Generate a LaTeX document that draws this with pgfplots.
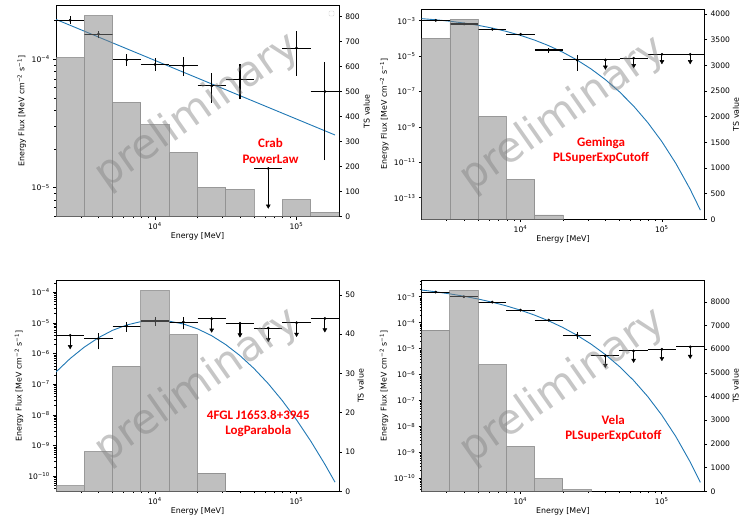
\documentclass[border=0pt]{standalone}
\usepackage{pgfplots}
\pgfplotsset{compat=1.18}
\usepackage{fontspec}
\setmainfont{DejaVu Sans}
\newfontfamily\redfont{Carlito}
\definecolor{mplblue}{RGB}{31,119,180}
\newcommand{\tp}[1]{10\textsuperscript{#1}}
\pgfplotsset{
 mybase/.style={scale only axis, anchor=north west, xmin=2000, xmax=200000,
   tick align=outside, major tick length=2.8pt, minor tick length=1.6pt,
   every tick/.append style={black, line width=0.55pt}, axis line style={line width=0.65pt},
   ticklabel style={font=\fontsize{7.6}{9}\selectfont}, label style={font=\fontsize{7.9}{9}\selectfont},
   /pgf/number format/assume math mode=true, /pgf/number format/1000 sep={}, scaled ticks=false},
 myflux/.style={mybase, tick pos=left, xtick={1e4,1e5}, xticklabels={\tp{4},\tp{5}},
   minor xtick={3000,4000,5000,6000,7000,8000,9000,20000,30000,40000,50000,60000,70000,80000,90000},
   xlabel={Energy [MeV]}, ylabel={Energy Flux [MeV cm\textsuperscript{−2} s\textsuperscript{−1}]},
   xlabel style={at={(axis description cs:0.5,0)}, anchor=center, yshift=-20pt},
   ylabel style={at={(axis description cs:#1,0.5)}, anchor=center},
   unbounded coords=jump},
 myts/.style={mybase, axis x line=none, axis y line*=right, ymin=0, ylabel={TS value},
   ylabel style={at={(axis description cs:#1,0.5)}, anchor=center}},
 mybars/.style={ybar interval, fill=gray, fill opacity=0.5, draw=gray, draw opacity=0.7, line width=0.9pt},
 myerrs/.style={black, line width=1.1pt},
 mypts/.style={only marks, mark=*, mark size=1.2pt, black},
 myheads/.style={only marks, mark=triangle*, mark size=2.3pt, black, mark options={rotate=180}},
 mymodel/.style={mplblue, line width=0.9pt},
}
\begin{document}
\begin{tikzpicture}
\useasboundingbox (0,0) rectangle (753pt,-518pt);
% ---------------- Panel 1: Crab
\begin{axis}[xmode=log, ymode=log, myflux=-0.1212, at={(56pt,-5.7pt)}, width=283pt, height=211pt, ymin=5.94e-6, ymax=2.61e-4,
  ytick={1e-5,1e-4}, yticklabels={\tp{−5},\tp{−4}},
  minor ytick={6e-6,7e-6,8e-6,9e-6,2e-5,3e-5,4e-5,5e-5,6e-5,7e-5,8e-5,9e-5,2e-4}]
\addplot[mymodel] coordinates {(2000,2.04e-4) (187500,2.57e-5)};
\addplot[myerrs] coordinates {
(2000,2.01e-4)(3170,2.01e-4)(nan,nan) (3170,1.57e-4)(5024,1.57e-4)(nan,nan)
(5024,9.9e-5)(7962,9.9e-5)(nan,nan) (7962,9.1e-5)(12619,9.1e-5)(nan,nan)
(12619,8.9e-5)(20000,8.9e-5)(nan,nan) (20000,6.2e-5)(31698,6.2e-5)(nan,nan)
(31698,7.0e-5)(50238,7.0e-5)(nan,nan) (50238,1.41e-5)(79621,1.41e-5)(nan,nan)
(79621,1.22e-4)(126191,1.22e-4)(nan,nan) (126191,5.6e-5)(200000,5.6e-5)(nan,nan)
(2518,1.88e-4)(2518,2.18e-4)(nan,nan) (3991,1.46e-4)(3991,1.67e-4)(nan,nan)
(6325,8.87e-5)(6325,1.10e-4)(nan,nan) (10024,8.16e-5)(10024,1.02e-4)(nan,nan)
(15887,7.38e-5)(15887,1.04e-4)(nan,nan) (25179,4.59e-5)(25179,7.78e-5)(nan,nan)
(39905,4.88e-5)(39905,9.14e-5)(nan,nan) (63246,7.2e-6)(63246,1.41e-5)(nan,nan)
(100237,7.46e-5)(100237,1.66e-4)(nan,nan) (158866,1.64e-5)(158866,9.59e-5)};
\addplot[mypts] coordinates {(2518,2.01e-4)(3991,1.57e-4)(6325,9.9e-5)(10024,9.1e-5)(15887,8.9e-5)
(25179,6.2e-5)(39905,7.0e-5)(63246,1.41e-5)(100237,1.22e-4)(158866,5.6e-5)};
\addplot[myheads] coordinates {(63246,7.2e-6)};
\end{axis}
\begin{axis}[xmode=log, myts=1.098, at={(56pt,-5.7pt)}, width=283pt, height=211pt, ymax=844, ytick={0,100,...,800}]
\addplot[mybars] coordinates {(2000,636)(3170,804)(5024,457)(7962,367)(12619,257)(20000,117)(31698,109)(50238,0)(79621,68)(126191,17)(200000,17)};
\node[draw=black!20, fill=white, rounded corners=0.8pt, minimum size=5pt, inner sep=0pt] at (rel axis cs:0.9735,0.963) {};
\end{axis}
% ---------------- Panel 2: Geminga
\begin{axis}[xmode=log, ymode=log, myflux=-0.1323, at={(421.7pt,-9.3pt)}, width=282.6pt, height=210pt, ymin=6e-15, ymax=4.4e-3,
  ytick={1e-13,1e-11,1e-9,1e-7,1e-5,1e-3}, yticklabels={\tp{−13},\tp{−11},\tp{−9},\tp{−7},\tp{−5},\tp{−3}},
  minor ytick={}]
\addplot[mymodel] coordinates {(2000,1.303e-3)(2512,1.127e-3)(3162,9.33e-4)(3981,7.36e-4)(5012,5.47e-4)
(6310,3.83e-4)(7943,2.48e-4)(10000,1.479e-4)(12589,8.0e-5)(15849,3.87e-5)(19953,1.644e-5)(25119,6.04e-6)
(31623,1.866e-6)(39811,4.75e-7)(50119,9.68e-8)(63096,1.524e-8)(79433,1.79e-9)(100000,1.5e-10)
(125893,8.49e-12)(158489,3.09e-13)(187500,1.99e-14)};
\addplot[myerrs] coordinates {
(2000,1.04e-3)(3170,1.04e-3)(nan,nan) (3170,6.5e-4)(5024,6.5e-4)(nan,nan)
(5024,3.24e-4)(7962,3.24e-4)(nan,nan) (7962,1.69e-4)(12619,1.69e-4)(nan,nan)
(12619,2.22e-5)(20000,2.22e-5)(nan,nan) (20000,6.05e-6)(31698,6.05e-6)(nan,nan)
(31698,6.05e-6)(50238,6.05e-6)(nan,nan) (50238,7.5e-6)(79621,7.5e-6)(nan,nan)
(79621,1.26e-5)(126191,1.26e-5)(nan,nan) (126191,1.26e-5)(200000,1.26e-5)(nan,nan)
(15887,1.57e-5)(15887,3.0e-5)(nan,nan) (25179,1.51e-6)(25179,1.16e-5)(nan,nan)
(39905,2.4e-6)(39905,6.05e-6)(nan,nan) (63246,2.9e-6)(63246,7.5e-6)(nan,nan)
(100237,4.9e-6)(100237,1.26e-5)(nan,nan) (158866,4.9e-6)(158866,1.26e-5)};
\addplot[mypts] coordinates {(2518,1.04e-3)(3991,6.5e-4)(6325,3.24e-4)(10024,1.69e-4)(15887,2.22e-5)
(25179,6.05e-6)(39905,6.05e-6)(63246,7.5e-6)(100237,1.26e-5)(158866,1.26e-5)};
\addplot[myheads] coordinates {(39905,2.4e-6)(63246,2.9e-6)(100237,4.9e-6)(158866,4.9e-6)};
\end{axis}
\begin{axis}[xmode=log, myts=1.1122, at={(421.7pt,-9.3pt)}, width=282.6pt, height=210pt, ymax=4092, ytick={0,500,...,4000}]
\addplot[mybars] coordinates {(2000,3526)(3170,3896)(5024,2006)(7962,779)(12619,84)(20000,84)};
\end{axis}
% ---------------- Panel 3: 4FGL J1653.8+3945
\begin{axis}[xmode=log, ymode=log, myflux=-0.1307, at={(56pt,-280.7pt)}, width=283pt, height=210.6pt, ymin=3.2e-11, ymax=2.4e-4,
  ytick={1e-10,1e-9,1e-8,1e-7,1e-6,1e-5,1e-4}, yticklabels={\tp{−10},\tp{−9},\tp{−8},\tp{−7},\tp{−6},\tp{−5},\tp{−4}},
  minor ytick={4e-11,5e-11,6e-11,7e-11,8e-11,9e-11,2e-10,3e-10,4e-10,5e-10,6e-10,7e-10,8e-10,9e-10,
  2e-9,3e-9,4e-9,5e-9,6e-9,7e-9,8e-9,9e-9,2e-8,3e-8,4e-8,5e-8,6e-8,7e-8,8e-8,9e-8,
  2e-7,3e-7,4e-7,5e-7,6e-7,7e-7,8e-7,9e-7,2e-6,3e-6,4e-6,5e-6,6e-6,7e-6,8e-6,9e-6,
  2e-5,3e-5,4e-5,5e-5,6e-5,7e-5,8e-5,9e-5,2e-4}]
\addplot[mymodel] coordinates {(2000,2.51e-7)(2512,6.84e-7)(3162,1.619e-6)(3981,3.29e-6)(5012,5.74e-6)
(6310,8.59e-6)(7943,1.105e-5)(10000,1.213e-5)(12589,1.148e-5)(15849,9.31e-6)(19953,6.47e-6)(25119,3.87e-6)
(31623,1.977e-6)(39811,8.69e-7)(50119,3.27e-7)(63096,1.057e-7)(79433,2.93e-8)(100000,6.98e-9)
(125893,1.426e-9)(158489,2.49e-10)(187500,6.35e-11)};
\addplot[myerrs] coordinates {
(2000,3.94e-6)(3170,3.94e-6)(nan,nan) (3170,3.06e-6)(5024,3.06e-6)(nan,nan)
(5024,7.9e-6)(7962,7.9e-6)(nan,nan) (7962,1.16e-5)(12619,1.16e-5)(nan,nan)
(12619,1.07e-5)(20000,1.07e-5)(nan,nan) (20000,1.38e-5)(31698,1.38e-5)(nan,nan)
(31698,9.7e-6)(50238,9.7e-6)(nan,nan) (50238,6.8e-6)(79621,6.8e-6)(nan,nan)
(79621,1.02e-5)(126191,1.02e-5)(nan,nan) (126191,1.41e-5)(200000,1.41e-5)(nan,nan)
(2518,1.7e-6)(2518,3.94e-6)(nan,nan) (3991,1.37e-6)(3991,4.81e-6)(nan,nan)
(6325,5.19e-6)(6325,1.1e-5)(nan,nan) (10024,7.94e-6)(10024,1.52e-5)(nan,nan)
(15887,6.18e-6)(15887,1.52e-5)(nan,nan) (25179,5.9e-6)(25179,1.38e-5)(nan,nan)
(39905,4.1e-6)(39905,9.7e-6)(nan,nan) (63246,2.9e-6)(63246,6.8e-6)(nan,nan)
(100237,4.3e-6)(100237,1.02e-5)(nan,nan) (158866,6.0e-6)(158866,1.41e-5)};
\addplot[mypts] coordinates {(2518,3.94e-6)(3991,3.06e-6)(6325,7.9e-6)(10024,1.16e-5)(15887,1.07e-5)
(25179,1.38e-5)(39905,9.7e-6)(63246,6.8e-6)(100237,1.02e-5)(158866,1.41e-5)};
\addplot[myheads] coordinates {(2518,1.7e-6)(25179,5.9e-6)(39905,4.1e-6)(63246,2.9e-6)(100237,4.3e-6)(158866,6.0e-6)};
\end{axis}
\begin{axis}[xmode=log, myts=1.0767, at={(56pt,-280.7pt)}, width=283pt, height=210.6pt, ymax=53.6, ytick={0,10,...,50}]
\addplot[mybars] coordinates {(2000,1.4)(3170,10.1)(5024,31.8)(7962,51.1)(12619,39.9)(20000,4.6)(31698,4.6)};
\end{axis}
% ---------------- Panel 4: Vela
\begin{axis}[xmode=log, ymode=log, myflux=-0.1326, at={(421.5pt,-280.7pt)}, width=282.8pt, height=210.6pt, ymin=3.2e-11, ymax=4.15e-3,
  ytick={1e-10,1e-9,1e-8,1e-7,1e-6,1e-5,1e-4,1e-3}, yticklabels={\tp{−10},\tp{−9},\tp{−8},\tp{−7},\tp{−6},\tp{−5},\tp{−4},\tp{−3}},
  minor ytick={4e-11,5e-11,6e-11,7e-11,8e-11,9e-11,2e-10,3e-10,4e-10,5e-10,6e-10,7e-10,8e-10,9e-10,
  2e-9,3e-9,4e-9,5e-9,6e-9,7e-9,8e-9,9e-9,2e-8,3e-8,4e-8,5e-8,6e-8,7e-8,8e-8,9e-8,
  2e-7,3e-7,4e-7,5e-7,6e-7,7e-7,8e-7,9e-7,2e-6,3e-6,4e-6,5e-6,6e-6,7e-6,8e-6,9e-6,
  2e-5,3e-5,4e-5,5e-5,6e-5,7e-5,8e-5,9e-5,2e-4,3e-4,4e-4,5e-4,6e-4,7e-4,8e-4,9e-4,2e-3,3e-3,4e-3}]
\addplot[mymodel] coordinates {(2000,1.815e-3)(2512,1.553e-3)(3162,1.294e-3)(3981,1.050e-3)(5012,8.22e-4)
(6310,6.19e-4)(7943,4.47e-4)(10000,3.05e-4)(12589,1.968e-4)(15849,1.183e-4)(19953,6.56e-5)(25119,3.31e-5)
(31623,1.50e-5)(39811,6.0e-6)(50119,2.07e-6)(63096,6.04e-7)(79433,1.45e-7)(100000,2.77e-8)
(125893,4.08e-9)(158489,4.43e-10)(187500,7.03e-11)};
\addplot[myerrs] coordinates {
(2000,1.51e-3)(3170,1.51e-3)(nan,nan) (3170,1.0e-3)(5024,1.0e-3)(nan,nan)
(5024,6.2e-4)(7962,6.2e-4)(nan,nan) (7962,3.06e-4)(12619,3.06e-4)(nan,nan)
(12619,1.26e-4)(20000,1.26e-4)(nan,nan) (20000,3.3e-5)(31698,3.3e-5)(nan,nan)
(31698,5.27e-6)(50238,5.27e-6)(nan,nan) (50238,8.2e-6)(79621,8.2e-6)(nan,nan)
(79621,9.5e-6)(126191,9.5e-6)(nan,nan) (126191,1.17e-5)(200000,1.17e-5)(nan,nan)
(25179,2.46e-5)(25179,4.46e-5)(nan,nan)
(39905,2.3e-6)(39905,5.27e-6)(nan,nan) (63246,3.6e-6)(63246,8.2e-6)(nan,nan)
(100237,4.2e-6)(100237,9.5e-6)(nan,nan) (158866,5.1e-6)(158866,1.17e-5)};
\addplot[mypts] coordinates {(2518,1.51e-3)(3991,1.0e-3)(6325,6.2e-4)(10024,3.06e-4)(15887,1.26e-4)
(25179,3.3e-5)(39905,5.27e-6)(63246,8.2e-6)(100237,9.5e-6)(158866,1.17e-5)};
\addplot[myheads] coordinates {(39905,2.3e-6)(63246,3.6e-6)(100237,4.2e-6)(158866,5.1e-6)};
\end{axis}
\begin{axis}[xmode=log, myts=1.111, at={(421.5pt,-280.7pt)}, width=282.8pt, height=210.6pt, ymax=8890, ytick={0,1000,...,8000}]
\addplot[mybars] coordinates {(2000,6803)(3170,8479)(5024,5352)(7962,1901)(12619,535)(20000,70)(31698,70)};
\end{axis}
% ---------------- watermarks and labels
\foreach \cx/\cy in {197.5/-111.2, 563/-114.3, 197.5/-386, 563/-386}
  \node[rotate=35, text=gray, opacity=0.45, font=\fontsize{42}{50}\selectfont] at (\cx pt,\cy pt) {preliminary};
\begin{scope}[every node/.style={text=red, align=center, font=\redfont\bfseries\fontsize{13}{15.5}\selectfont}]
\node at (270.5pt,-151pt) {Crab\\PowerLaw};
\node at (601pt,-150.5pt) {Geminga\\PLSuperExpCutoff};
\node at (258.3pt,-423.8pt) {4FGL J1653.8+3945\\LogParabola};
\node at (613.3pt,-428.3pt) {Vela\\PLSuperExpCutoff};
\end{scope}
\end{tikzpicture}
\end{document}
